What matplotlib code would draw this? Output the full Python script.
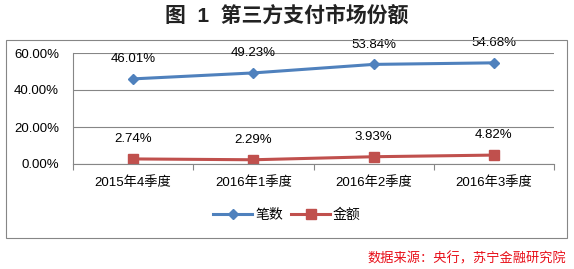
import matplotlib.pyplot as plt
from matplotlib.patches import Rectangle

plt.rcParams['font.family'] = ['Liberation Sans', 'Noto Sans CJK SC', 'DejaVu Sans']

# data
quarters = ["2015年4季度", "2016年1季度", "2016年2季度", "2016年3季度"]
count_share = [46.01, 49.23, 53.84, 54.68]   # 笔数
amount_share = [2.74, 2.29, 3.93, 4.82]      # 金额

blue = "#4F81BD"
red = "#C0504D"
gray = "#868686"

fig = plt.figure(figsize=(5.74, 2.69), dpi=100)

# outer chart box
fig.patches.append(Rectangle((6 / 574, 1 - 238 / 269), 561 / 574, 198 / 269,
                             transform=fig.transFigure, fill=False,
                             edgecolor=gray, linewidth=0.8))

fig.text(0.5, 1 - 16 / 269, "图  1  第三方支付市场份额", ha="center", va="center",
         fontsize=15, fontweight="bold", color="#222222")

ax = fig.add_axes([73 / 574, 1 - 164 / 269, 481 / 574, 111 / 269])
x = range(len(quarters))
ax.plot(x, count_share, color=blue, linewidth=2.2, marker="D", markersize=5.5, label="笔数")
ax.plot(x, amount_share, color=red, linewidth=2.2, marker="s", markersize=7, label="金额")

for i, v in enumerate(count_share):
    ax.annotate(f"{v:.2f}%", (i, v), xytext=(0, 10), textcoords="offset points",
                ha="center", va="bottom", fontsize=9.5)
for i, v in enumerate(amount_share):
    ax.annotate(f"{v:.2f}%", (i, v), xytext=(0, 10), textcoords="offset points",
                ha="center", va="bottom", fontsize=9.5)

ax.set_xlim(-0.5, 3.5)
ax.set_ylim(0, 60)
ax.set_yticks([0, 20, 40, 60])
ax.set_yticklabels(["0.00%", "20.00%", "40.00%", "60.00%"])
ax.set_xticks([-0.5, 0.5, 1.5, 2.5, 3.5], minor=False)
ax.set_xticklabels([])
ax.set_xticks(list(x), minor=True)
ax.set_xticklabels(quarters, minor=True)
ax.tick_params(axis="x", which="major", length=4, color=gray, direction="out")
ax.tick_params(axis="x", which="minor", length=0, labelsize=9.5, pad=9)
ax.tick_params(axis="y", length=0, labelsize=9.5, pad=10)
ax.grid(axis="y", color=gray, linewidth=0.8)
ax.set_axisbelow(True)
for s in ["top", "right"]:
    ax.spines[s].set_visible(False)
ax.spines["left"].set_color(gray)
ax.spines["bottom"].set_color(gray)

fig.legend(loc="center", bbox_to_anchor=(0.5, 1 - 215 / 269), ncol=2, frameon=False,
           fontsize=10, handlelength=2.8, columnspacing=0.6, handletextpad=0.2)

fig.text(566 / 574, 1 - 259 / 269, "数据来源：央行，苏宁金融研究院", ha="right", va="center",
         fontsize=9.5, color="#E8101A", style="italic")

fig.savefig("out.png", dpi=100)
